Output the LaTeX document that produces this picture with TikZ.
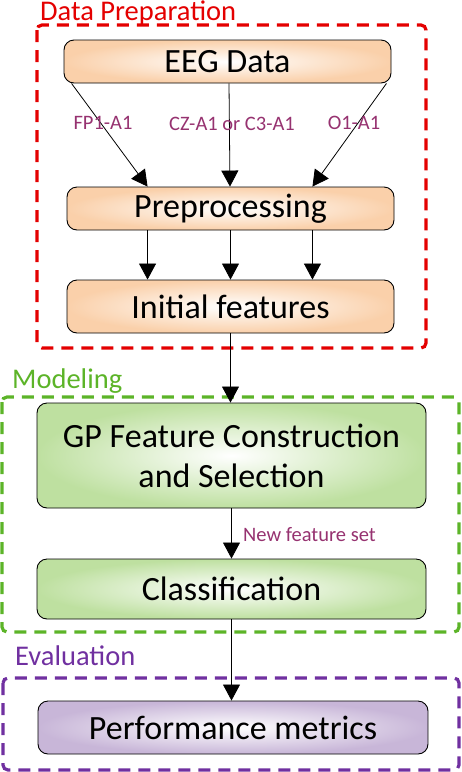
\documentclass[tikz,border=0pt]{standalone}
\usepackage{fontspec}
\setmainfont{Carlito}
\usetikzlibrary{arrows.meta,calc}
\definecolor{peach}{RGB}{250,208,170}
\definecolor{lgreen}{RGB}{190,224,160}
\definecolor{lpurple}{RGB}{200,182,216}
\definecolor{secred}{RGB}{228,0,0}
\definecolor{secgreen}{RGB}{92,180,40}
\definecolor{secpurple}{RGB}{112,48,160}
\definecolor{lblcol}{RGB}{150,50,112}
\tikzset{
  x=1pt, y=-1pt,
  box/.style={draw=black, line width=0.9pt, rounded corners=10pt, shade, inner color=white,
    align=center, font=\fontsize{34}{40}\selectfont, inner sep=0pt},
  orangebox/.style={box, outer color=peach},
  greenbox/.style={box, outer color=lgreen},
  purplebox/.style={box, outer color=lpurple},
  frame/.style={line width=3.2pt, dash pattern=on 12pt off 8pt, rounded corners=5pt},
  sectitle/.style={font=\fontsize{28.5}{30}\selectfont, inner sep=0pt, anchor=west},
  lbl/.style={text=lblcol, font=\fontsize{20.5}{22}\selectfont, inner sep=0pt},
  arr/.style={draw=black, line width=0.8pt, -{Triangle[width=17pt,length=16pt]}},
}
\begin{document}
\begin{tikzpicture}
\useasboundingbox (0,0) rectangle (462,772);
% frames
\draw[frame, draw=secred] (37,25) rectangle (426,348);
\draw[frame, draw=secgreen] (2,397) rectangle (459,632);
\draw[frame, draw=secpurple] (3,678) rectangle (459,770);
% section titles
\node[sectitle, text=secred] (tprep) at (40,13) {Data Preparation};
\node[sectitle, text=secgreen] (tmod) at (12,381) {Modeling};
\node[sectitle, text=secpurple] (teval) at (15,656) {Evaluation};
% boxes
\node[orangebox, minimum width=327pt, minimum height=43pt] (eeg) at (227.5,61.5) {EEG Data};
\node[orangebox, minimum width=327pt, minimum height=43pt] (prep) at (230.5,208.5) {Preprocessing};
\node[orangebox, minimum width=327pt, minimum height=53pt] (init) at (230.5,306.5) {Initial features};
\node[greenbox, minimum width=389pt, minimum height=105pt] (gp) at (231.5,455.5) {GP Feature Construction\\and Selection};
\node[greenbox, minimum width=389pt, minimum height=60pt] (cls) at (231.5,589) {Classification};
\node[purplebox, minimum width=390pt, minimum height=53pt] (perf) at (233,727.5) {Performance metrics};
% arrows EEG -> Preprocessing
\draw[arr] ($(eeg.south west)+(8,0)$) -- ($(prep.north west)+(81,0)$);
\draw[arr] ($(eeg.south)+(1.5,0)$) -- ($(prep.north)+(-0.5,0)$);
\draw[arr] ($(eeg.south east)+(-5,0)$) -- ($(prep.north east)+(-82,0)$);
\node[lbl] (l1) at (103,123) {FP1-A1};
\node[lbl] (l2) at (232,124) {CZ-A1 or C3-A1};
\node[lbl] (l3) at (354,123) {O1-A1};
% arrows Preprocessing -> Initial
\draw[arr] ($(prep.south west)+(81,0)$) -- ($(init.north west)+(81,0)$);
\draw[arr] (prep.south) -- (init.north);
\draw[arr] ($(prep.south east)+(-82,0)$) -- ($(init.north east)+(-82,0)$);
% lower arrows
\draw[arr] (init.south) -- (init.south |- gp.north);
\draw[arr] (gp.south) -- (cls.north);
\node[lbl, anchor=west] (l4) at (243,535) {New feature set};
\draw[arr] (cls.south) -- (cls.south |- perf.north);
\end{tikzpicture}
\end{document}
